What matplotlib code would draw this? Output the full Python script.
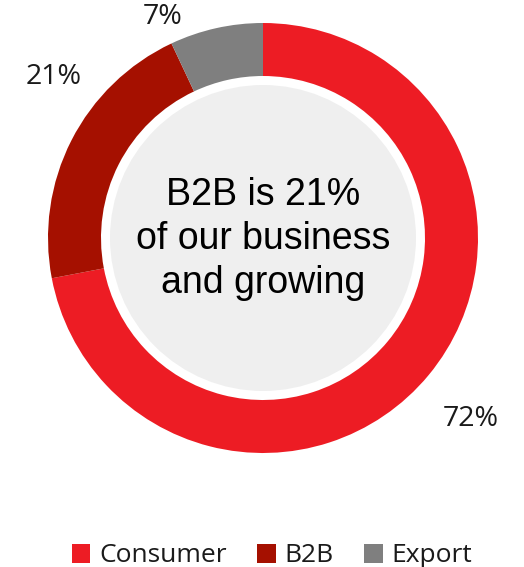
import numpy as np
import matplotlib.pyplot as plt
from matplotlib.patches import Circle, Patch

# share of business by channel
segments = ["Consumer", "B2B", "Export"]
shares = [72, 21, 7]
colors = ["#ED1C24", "#A51000", "#7F7F7F"]
# where each percentage label sits: (angle in degrees, distance in radii)
label_spots = [(-41, 1.28), (142.5, 1.23), (114.5, 1.13)]
headline = "B2B is 21%\nof our business\nand growing"

fig = plt.figure(figsize=(5.24, 5.67), dpi=100)
ax = fig.add_axes([0, 0, 1, 1])

cx, cy, R = 263, 329, 215
wedges, _ = ax.pie(shares, colors=colors, startangle=90, counterclock=False,
                   radius=R, center=(cx, cy), frame=True,
                   wedgeprops=dict(width=R - 162, linewidth=0))
ax.set_xlim(0, 524)
ax.set_ylim(0, 567)
ax.set_aspect("equal")
ax.axis("off")

# light disc holding the headline
ax.add_patch(Circle((cx, cy), 153, facecolor="#EFEFEF", edgecolor="none", zorder=3))
ax.text(cx, cy - 1, headline, ha="center", va="center", fontsize=27,
        family="Liberation Sans", linespacing=1.3, color="#000000", zorder=4)

for val, (ang, dist) in zip(shares, label_spots):
    a = np.deg2rad(ang)
    ax.text(cx + dist * R * np.cos(a), cy + dist * R * np.sin(a), f"{val}%",
            ha="center", va="center", fontsize=20.5, family="Open Sans",
            color="#1A1A1A")

handles = [Patch(facecolor=c, edgecolor="none") for c in colors]
fig.legend(handles, segments, loc="center",
           bbox_to_anchor=(0.5 + 10 / 524, 1 - 556 / 567),
           ncol=3, frameon=False, prop={"family": "Open Sans", "size": 19},
           handlelength=0.7, handleheight=0.7, handletextpad=0.34,
           columnspacing=1.15, labelcolor="#1A1A1A", borderpad=0)

fig.savefig("out.png", dpi=100)
